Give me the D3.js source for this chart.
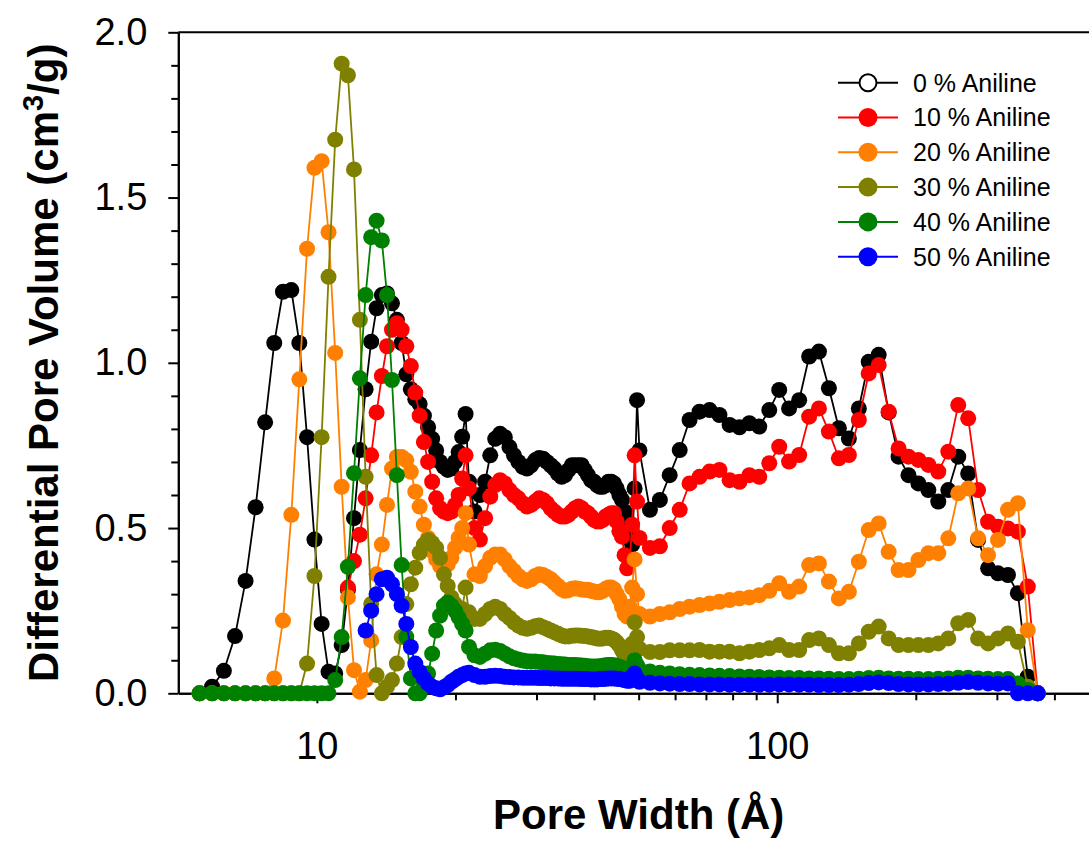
<!DOCTYPE html>
<html>
<head>
<meta charset="utf-8">
<script src="https://cdn.jsdelivr.net/npm/d3@7"></script>
<style>
  html, body { margin: 0; padding: 0; background: #fff; }
  svg { display: block; font-family: "Liberation Sans", Arial, Helvetica, sans-serif; }
</style>
</head>
<body>
<svg id="chart" width="1089" height="841"></svg>
<script>
'use strict';

// pore width grid (Å)
const poreWidth = [
    5.56, 5.92, 6.28, 6.64, 7.00, 7.36, 7.72, 8.08, 8.44, 8.80, 9.16, 9.52, 9.88, 10.24, 10.60,
    10.96, 11.32, 11.68, 12.04, 12.40, 12.76, 13.12, 13.48, 13.84, 14.20, 14.56, 14.92, 15.28, 15.64, 16.00,
    16.36, 16.72, 17.08, 17.44, 17.80, 18.16, 18.52, 18.88, 19.24, 19.60, 19.96, 20.32, 20.68, 21.04, 21.40,
    22.0, 22.6, 23.2, 23.8, 24.4, 25.0, 25.6, 26.2, 26.8, 27.4, 28.0, 28.6, 29.2, 29.8, 30.4, 31.0,
    31.6, 32.2, 32.8, 33.4, 34.0, 34.6, 35.2, 35.8, 36.4, 37.0, 37.6, 38.2, 38.8, 39.4, 40.0, 40.6,
    41.2, 41.8, 42.4, 43.0, 43.6, 44.2, 44.8, 45.4, 46.0, 46.6, 47.2, 47.8, 48.4, 49.0, 49.6, 50.2,
    52.9, 55.6, 58.4, 61.4, 64.5, 67.8, 71.3, 74.9, 78.8, 82.8, 87.0, 91.4, 96.1, 101.0, 106.1, 111.6,
    117.3, 123.2, 129.5, 136.1, 143.1, 150.4, 158.0, 166.1, 174.6, 183.5, 192.8, 202.6, 213.0, 223.8,
    235.3, 247.3, 259.9, 273.1, 287.1, 301.7, 317.1, 333.2, 350.2, 368.1
];

// differential pore volume (cm3/g), one array per sample
const aniline0 = [
    0, 0.02, 0.068, 0.173, 0.34, 0.563, 0.82, 1.06, 1.215, 1.22, 1.06, 0.775, 0.465, 0.21, 0.065,
    0.06, 0.146, 0.313, 0.53, 0.736, 0.92, 1.064, 1.165, 1.205, 1.21, 1.18, 1.13, 1.06, 0.965, 0.92,
    0.89, 0.875, 0.84, 0.805, 0.77, 0.735, 0.70, 0.685, 0.676, 0.68, 0.70, 0.73, 0.776, 0.845, 0.64,
    0.55, 0.60, 0.64, 0.72, 0.77, 0.785, 0.775, 0.745, 0.72, 0.70, 0.685, 0.68, 0.69, 0.705, 0.712, 0.71,
    0.70, 0.69, 0.68, 0.665, 0.655, 0.66, 0.675, 0.69, 0.69, 0.69, 0.69, 0.675, 0.66, 0.645, 0.64, 0.63,
    0.625, 0.625, 0.63, 0.64, 0.64, 0.635, 0.62, 0.60, 0.585, 0.55, 0.52, 0.47, 0.45, 0.62, 0.887, 0.735,
    0.555, 0.585, 0.66, 0.736, 0.827, 0.852, 0.857, 0.842, 0.812, 0.805, 0.817, 0.807, 0.857, 0.918, 0.862, 0.887,
    1.019, 1.034, 0.923, 0.802, 0.771, 0.862, 1.003, 1.024, 0.85, 0.716, 0.66, 0.635, 0.615, 0.58,
    0.615, 0.716, 0.665, 0.464, 0.378, 0.363, 0.358, 0.303, 0.05, 0
];
const aniline10 = [
    null, null, null, null, null, null, null, null, null, null, null, null, null, null, null,
    null, null, 0.32, 0.40, 0.48, 0.59, 0.72, 0.85, 0.96, 1.05, 1.10, 1.12, 1.10, 1.05, 0.99,
    0.91, 0.84, 0.76, 0.70, 0.64, 0.59, 0.56, 0.55, 0.545, 0.55, 0.57, 0.60, 0.65, 0.72, 0.62,
    0.50, 0.465, 0.53, 0.595, 0.63, 0.645, 0.635, 0.615, 0.60, 0.59, 0.575, 0.565, 0.57, 0.58, 0.59, 0.585,
    0.575, 0.56, 0.55, 0.54, 0.535, 0.535, 0.54, 0.55, 0.56, 0.565, 0.56, 0.55, 0.545, 0.535, 0.525, 0.52,
    0.52, 0.525, 0.535, 0.54, 0.545, 0.545, 0.52, 0.49, 0.474, 0.418, 0.378, 0.40, 0.51, 0.72, 0.58, 0.47,
    0.44, 0.445, 0.50, 0.555, 0.635, 0.655, 0.671, 0.676, 0.645, 0.64, 0.66, 0.655, 0.696, 0.746, 0.701, 0.721,
    0.837, 0.862, 0.792, 0.711, 0.721, 0.827, 0.968, 0.993, 0.852, 0.741, 0.716, 0.706, 0.691, 0.671,
    0.731, 0.872, 0.832, 0.615, 0.519, 0.504, 0.499, 0.489, 0.323, 0
];
const aniline20 = [
    0, 0, 0, 0, 0, 0, 0, 0.045, 0.22, 0.54, 0.95, 1.345, 1.59, 1.61, 1.395,
    1.03, 0.625, 0.29, 0.07, 0.005, 0.04, 0.16, 0.36, 0.45, 0.57, 0.68, 0.715, 0.715, 0.705, 0.67,
    0.61, 0.565, 0.51, 0.47, 0.43, 0.405, 0.385, 0.385, 0.39, 0.41, 0.44, 0.47, 0.50, 0.545, 0.45,
    0.36, 0.355, 0.385, 0.41, 0.42, 0.42, 0.405, 0.385, 0.37, 0.355, 0.345, 0.34, 0.345, 0.355, 0.36, 0.358,
    0.352, 0.345, 0.335, 0.325, 0.315, 0.31, 0.312, 0.316, 0.318, 0.316, 0.314, 0.313, 0.313, 0.31, 0.308, 0.306,
    0.306, 0.31, 0.316, 0.32, 0.32, 0.315, 0.30, 0.285, 0.262, 0.24, 0.232, 0.262, 0.32, 0.405, 0.30, 0.24,
    0.232, 0.24, 0.245, 0.255, 0.262, 0.267, 0.272, 0.277, 0.282, 0.287, 0.29, 0.297, 0.31, 0.333, 0.307, 0.323,
    0.388, 0.393, 0.338, 0.287, 0.307, 0.398, 0.494, 0.514, 0.428, 0.373, 0.373, 0.403, 0.424, 0.424,
    0.469, 0.605, 0.62, 0.469, 0.418, 0.464, 0.555, 0.575, 0.191, 0
];
const aniline30 = [
    0, 0, 0, 0, 0, 0, 0, 0, 0, 0, 0, 0.09, 0.355, 0.775, 1.26,
    1.675, 1.905, 1.87, 1.585, 1.13, 0.655, 0.27, 0.055, 0, 0.02, 0.04, 0.09, 0.17, 0.27, 0.33,
    0.38, 0.425, 0.45, 0.464, 0.455, 0.44, 0.41, 0.36, 0.325, 0.29, 0.27, 0.255, 0.255, 0.32, 0.245,
    0.225, 0.225, 0.24, 0.255, 0.262, 0.255, 0.24, 0.228, 0.215, 0.205, 0.198, 0.195, 0.198, 0.203, 0.205, 0.2,
    0.195, 0.19, 0.185, 0.18, 0.175, 0.172, 0.172, 0.174, 0.175, 0.175, 0.174, 0.173, 0.172, 0.17, 0.168, 0.166,
    0.165, 0.166, 0.168, 0.168, 0.166, 0.162, 0.155, 0.145, 0.13, 0.115, 0.10, 0.10, 0.15, 0.215, 0.17, 0.135,
    0.125, 0.125, 0.13, 0.13, 0.13, 0.131, 0.126, 0.126, 0.126, 0.121, 0.126, 0.131, 0.136, 0.146, 0.131, 0.131,
    0.161, 0.166, 0.146, 0.121, 0.121, 0.151, 0.186, 0.202, 0.166, 0.146, 0.146, 0.146, 0.146, 0.151,
    0.166, 0.212, 0.222, 0.166, 0.151, 0.166, 0.181, 0.156, 0.02, 0
];
const aniline40 = [
    0, 0, 0, 0, 0, 0, 0, 0, 0, 0, 0, 0, 0, 0, 0,
    0.04, 0.17, 0.383, 0.666, 0.953, 1.205, 1.38, 1.43, 1.37, 1.205, 0.948, 0.66, 0.388, 0.171, 0.045,
    0, 0, 0.02, 0.06, 0.12, 0.19, 0.235, 0.265, 0.275, 0.265, 0.25, 0.23, 0.21, 0.19, 0.14,
    0.115, 0.11, 0.12, 0.13, 0.132, 0.128, 0.12, 0.112, 0.106, 0.102, 0.099, 0.097, 0.096, 0.096, 0.095, 0.094,
    0.092, 0.091, 0.09, 0.089, 0.088, 0.087, 0.086, 0.086, 0.086, 0.085, 0.084, 0.083, 0.082, 0.081, 0.081, 0.081,
    0.082, 0.083, 0.085, 0.086, 0.086, 0.085, 0.083, 0.08, 0.077, 0.073, 0.07, 0.07, 0.08, 0.10, 0.085, 0.072,
    0.066, 0.062, 0.06, 0.058, 0.056, 0.055, 0.054, 0.053, 0.052, 0.051, 0.05, 0.049, 0.048, 0.047, 0.046, 0.046,
    0.045, 0.045, 0.044, 0.043, 0.043, 0.044, 0.046, 0.047, 0.045, 0.044, 0.044, 0.043, 0.043, 0.044,
    0.045, 0.047, 0.047, 0.045, 0.044, 0.043, 0.043, 0.03, 0.01, 0
];
const aniline50 = [
    null, null, null, null, null, null, null, null, null, null, null, null, null, null, null,
    null, null, null, null, null, 0.19, 0.25, 0.30, 0.345, 0.35, 0.33, 0.30, 0.265, 0.21, 0.14,
    0.09, 0.065, 0.045, 0.03, 0.02, 0.015, 0.012, 0.018, 0.025, 0.035, 0.042, 0.05, 0.055, 0.06, 0.062,
    0.055, 0.05, 0.05, 0.052, 0.053, 0.052, 0.05, 0.049, 0.048, 0.048, 0.047, 0.047, 0.047, 0.047, 0.046, 0.046,
    0.046, 0.045, 0.045, 0.045, 0.044, 0.044, 0.044, 0.044, 0.044, 0.044, 0.043, 0.043, 0.043, 0.042, 0.042, 0.042,
    0.043, 0.043, 0.044, 0.045, 0.045, 0.045, 0.044, 0.043, 0.042, 0.04, 0.038, 0.038, 0.05, 0.06, 0.045, 0.035,
    0.032, 0.03, 0.029, 0.028, 0.028, 0.027, 0.027, 0.027, 0.026, 0.026, 0.026, 0.026, 0.026, 0.027, 0.027, 0.026,
    0.026, 0.025, 0.025, 0.025, 0.026, 0.028, 0.031, 0.033, 0.031, 0.028, 0.027, 0.027, 0.027, 0.028,
    0.029, 0.032, 0.034, 0.032, 0.03, 0.029, 0.03, 0, 0, 0
];

const seriesNames = ['0 % Aniline', '10 % Aniline', '20 % Aniline', '30 % Aniline', '40 % Aniline', '50 % Aniline'];
const seriesColors = ['#000000', '#ff0000', '#ff8000', '#808000', '#008000', '#0000ff'];

const yTicks = [0, 0.5, 1.0, 1.5, 2.0];
const yTickLabels = ['0.0', '0.5', '1.0', '1.5', '2.0'];
const yMinorTicks = [0.1, 0.2, 0.3, 0.4, 0.6, 0.7, 0.8, 0.9, 1.1, 1.2, 1.3, 1.4, 1.6, 1.7, 1.8, 1.9];
const xTicks = [10, 100];
const xTickLabels = ['10', '100'];
const xMinorTicks = [6, 7, 8, 9, 20, 30, 40, 50, 60, 70, 80, 90, 200, 300, 400];

const FONT = '"Liberation Sans", Arial, Helvetica, sans-serif';
const LEFT = 178.3, RIGHT = 1099, TOP = 32.3, BOTTOM = 693.3;

const svg = d3.select('#chart');

const x = d3.scaleLog().domain([5, 500]).range([LEFT, RIGHT]);
const y = d3.scaleLinear().domain([0, 2]).range([BOTTOM, TOP]);

// style helper for axis groups
const styleAxis = (g, size) => {
    g.selectAll('.domain').attr('stroke', '#000').attr('stroke-width', 2);
    g.selectAll('line').attr('stroke', '#000').attr('stroke-width', 2);
    g.selectAll('text').attr('font-size', size).attr('font-family', FONT).attr('fill', '#000');
};

// minor ticks
svg.append('g')
    .attr('transform', `translate(${LEFT},0)`)
    .call(d3.axisLeft(y).tickValues(yMinorTicks).tickSize(7).tickSizeOuter(0).tickFormat(''))
    .call((g) => styleAxis(g, 0));
svg.append('g')
    .attr('transform', `translate(0,${BOTTOM})`)
    .call(d3.axisBottom(x).tickValues(xMinorTicks).tickSize(7).tickSizeOuter(0).tickFormat(''))
    .call((g) => styleAxis(g, 0));

// major ticks and labels
svg.append('g')
    .attr('transform', `translate(${LEFT},0)`)
    .call(d3.axisLeft(y).tickValues(yTicks).tickSize(10).tickSizeOuter(0).tickPadding(21)
        .tickFormat((d, i) => yTickLabels[i]))
    .call((g) => styleAxis(g, 38));
svg.append('g')
    .attr('transform', `translate(0,${BOTTOM})`)
    .call(d3.axisBottom(x).tickValues(xTicks).tickSize(10).tickSizeOuter(0).tickPadding(29)
        .tickFormat((d, i) => xTickLabels[i]))
    .call((g) => styleAxis(g, 38));

// top and right frame
svg.append('line').attr('x1', LEFT).attr('x2', RIGHT).attr('y1', TOP).attr('y2', TOP)
    .attr('stroke', '#000').attr('stroke-width', 2);
svg.append('line').attr('x1', RIGHT).attr('x2', RIGHT).attr('y1', TOP).attr('y2', BOTTOM)
    .attr('stroke', '#000').attr('stroke-width', 2);

// data series
const allSeries = [aniline0, aniline10, aniline20, aniline30, aniline40, aniline50];
allSeries.forEach((vals, i) => {
    const pts = poreWidth.map((w, j) => ({ w, v: vals[j] }));
    const line = d3.line()
        .defined((d) => d.v !== null)
        .x((d) => x(d.w))
        .y((d) => y(d.v));
    const g = svg.append('g');
    g.append('path')
        .attr('d', line(pts))
        .attr('fill', 'none')
        .attr('stroke', seriesColors[i])
        .attr('stroke-width', 1.8);
    g.selectAll('circle')
        .data(pts.filter((d) => d.v !== null))
        .join('circle')
        .attr('cx', (d) => x(d.w))
        .attr('cy', (d) => y(d.v))
        .attr('r', 8)
        .attr('fill', seriesColors[i]);
});

// legend
const legend = svg.append('g').attr('transform', 'translate(838,82.7)');
seriesNames.forEach((name, i) => {
    const row = legend.append('g').attr('transform', `translate(0,${i * 34.8})`);
    row.append('line').attr('x1', 0).attr('x2', 60).attr('y1', 0).attr('y2', 0)
        .attr('stroke', seriesColors[i]).attr('stroke-width', 2);
    row.append('circle').attr('cx', 30).attr('cy', 0).attr('r', i === 0 ? 8.5 : 9.5)
        .attr('fill', i === 0 ? '#fff' : seriesColors[i])
        .attr('stroke', seriesColors[i]).attr('stroke-width', i === 0 ? 2 : 0);
    row.append('text').attr('x', 75).attr('y', 8.8)
        .attr('font-family', FONT).attr('font-size', 25).text(name);
});

// axis titles
svg.append('text')
    .attr('x', (LEFT + RIGHT) / 2).attr('y', 829)
    .attr('text-anchor', 'middle')
    .attr('font-family', FONT).attr('font-size', 42).attr('font-weight', 'bold')
    .text('Pore Width (Å)');

const yTitle = svg.append('text')
    .attr('transform', `translate(58,${(TOP + BOTTOM) / 2}) rotate(-90)`)
    .attr('text-anchor', 'middle')
    .attr('font-family', FONT).attr('font-size', 42).attr('font-weight', 'bold');
yTitle.append('tspan').text('Differential Pore Volume (cm');
yTitle.append('tspan').attr('font-size', 29).attr('dy', -15).text('3');
yTitle.append('tspan').attr('dy', 15).text('/g)');
</script>
</body>
</html>
